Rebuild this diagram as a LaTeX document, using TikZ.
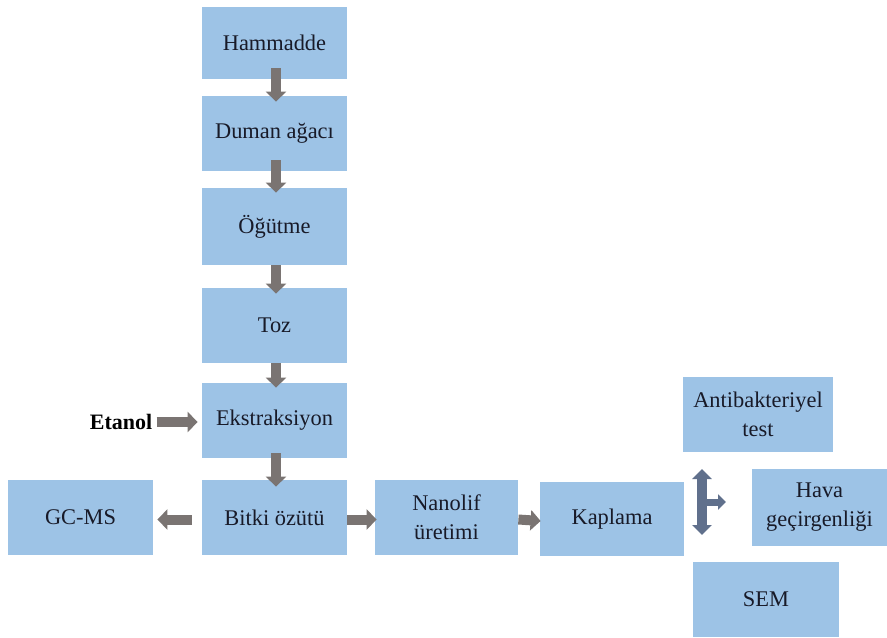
\documentclass[tikz,border=0pt]{standalone}
\usepackage{fontspec}
\setmainfont{Liberation Serif}
\newfontfamily\tnr{Liberation Serif}
\usetikzlibrary{arrows.meta}
\definecolor{boxblue}{RGB}{157,195,230}
\definecolor{arrowgray}{RGB}{122,116,114}
\definecolor{slatearr}{RGB}{96,112,140}
\definecolor{txt}{RGB}{24,26,40}
\tikzset{
  pbox/.style={fill=boxblue, draw=none, inner sep=0pt, align=center, text=txt,
    font=\tnr\fontsize{11.2}{14.5}\selectfont},
  garrow/.style={draw=arrowgray, line width=5pt, -{Triangle[length=5pt,width=10pt]}},
  sarrow/.style={draw=slatearr, line width=5pt, {Triangle[length=5pt,width=9.5pt]}-{Triangle[length=5pt,width=9.5pt]}},
  sarrowr/.style={draw=slatearr, line width=3.5pt, -{Triangle[length=4pt,width=7.5pt]}}
}
\begin{document}
\begin{tikzpicture}[x=0.5pt,y=-0.5pt]
\useasboundingbox (0,0) rectangle (887,637);
\node[pbox, minimum width=72.5pt, minimum height=36pt] (ham) at (274.5,43) {Hammadde};
\node[pbox, minimum width=72.5pt, minimum height=37.5pt] (dum) at (274.5,133.5) {Duman ağacı};
\node[pbox, minimum width=72.5pt, minimum height=38.5pt] (ogu) at (274.5,226.5) {Öğütme};
\node[pbox, minimum width=72.5pt, minimum height=37.5pt] (toz) at (274.5,325.5) {Toz};
\node[pbox, minimum width=72.5pt, minimum height=37.5pt] (eks) at (274.5,420.5) {Ekstraksiyon};
\node[pbox, minimum width=72.5pt, minimum height=37.5pt] (bit) at (274.5,517.5) {Bitki özütü};
\node[pbox, minimum width=72.5pt, minimum height=37.5pt] (gc) at (80.5,517.5) {GC-MS};
\node[pbox, minimum width=71.5pt, minimum height=37.5pt] (nan) at (446.5,517.5) {Nanolif\\üretimi};
\node[pbox, minimum width=72pt, minimum height=37pt] (kap) at (612,519) {Kaplama};
\node[pbox, minimum width=75pt, minimum height=37.5pt] (ant) at (758,414.5) {Antibakteriyel\\test};
\node[pbox, minimum width=67.5pt, minimum height=38.5pt] (hav) at (819.5,507.5) {Hava\\geçirgenliği};
\node[pbox, minimum width=73pt, minimum height=37.5pt] (sem) at (766,599.5) {SEM};
\node[inner sep=0pt, font=\tnr\fontsize{11}{14}\selectfont\bfseries, text=black] (eta) at (121,422) {Etanol};

\draw[garrow] ([xshift=0.75pt,yshift=5.5pt]ham.south) -- ([xshift=0.75pt,yshift=-3pt]dum.north);
\draw[garrow] ([xshift=0.75pt,yshift=5.5pt]dum.south) -- ([xshift=0.75pt,yshift=-2.5pt]ogu.north);
\draw[garrow] ([xshift=0.75pt,yshift=0pt]ogu.south) -- ([xshift=0.75pt,yshift=-3pt]toz.north);
\draw[garrow] ([xshift=0.75pt,yshift=0pt]toz.south) -- ([xshift=0.75pt,yshift=-2.5pt]eks.north);
\draw[garrow] ([xshift=0.75pt,yshift=2.5pt]eks.south) -- ([xshift=0.75pt,yshift=-3.5pt]bit.north);
\draw[garrow] ([xshift=2pt]eta.east) -- ([xshift=-2pt]eta.east -| eks.west);
\draw[garrow] ([xshift=-5pt,yshift=-1pt]bit.west) -- ([xshift=2pt,yshift=-1pt]gc.east);
\draw[garrow] ([yshift=-1pt]bit.east) -- ([xshift=1pt,yshift=-1pt]nan.west);
\draw[garrow] ([yshift=-1pt]nan.east) -- ([xshift=0.5pt,yshift=-1pt]kap.west);

\coordinate (dt) at (702,469);
\coordinate (db) at (702,535);
\coordinate (dm) at (702,502);
\coordinate (dr) at (726,502);
\draw[sarrowr] (dm) -- (dr);
\draw[sarrow] (dt) -- (db);
\end{tikzpicture}
\end{document}
